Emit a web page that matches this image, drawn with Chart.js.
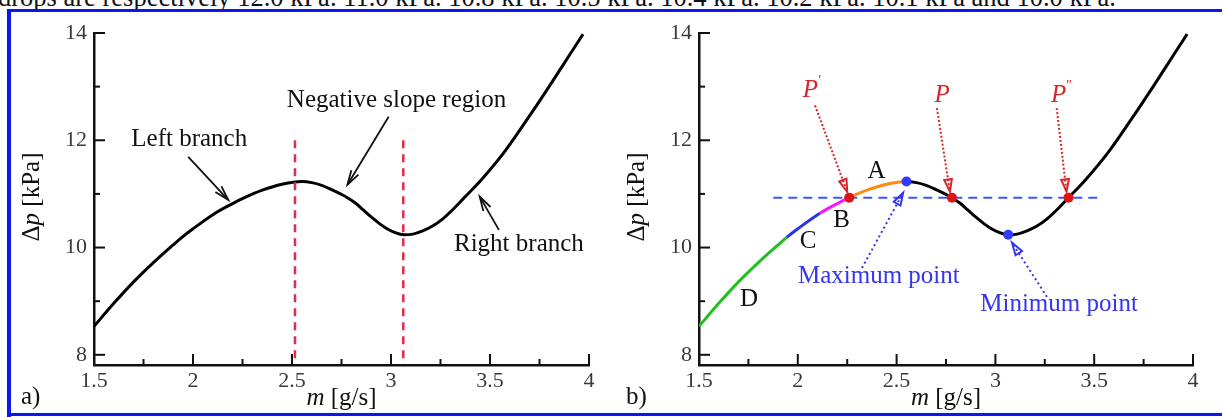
<!DOCTYPE html>
<html>
<head>
<meta charset="utf-8">
<script src="https://cdn.jsdelivr.net/npm/chart.js@4.4.1/dist/chart.umd.min.js"></script>
<style>
  html, body { margin: 0; padding: 0; background: #fff; }
  body { width: 1222px; height: 417px; position: relative; overflow: hidden; font-family: "Liberation Serif", serif; }
  #caption { position: absolute; left: -2px; top: -16px; font-size: 26.5px; line-height: 26.5px; white-space: nowrap; color: #111; }
  .frame { position: absolute; background: #0b16f2; z-index: 5; }
  canvas { position: absolute; top: 0; }
</style>
</head>
<body>
<div id="caption">drops are respectively 12.0 kPa. 11.0 kPa. 10.8 kPa. 10.5 kPa. 10.4 kPa. 10.2 kPa. 10.1 kPa and 10.0 kPa.</div>
<canvas id="panelA" width="610" height="417" style="left:0"></canvas>
<canvas id="panelB" width="617" height="417" style="left:605px"></canvas>
<div class="frame" style="left:7px;top:9px;width:1215px;height:3px"></div>
<div class="frame" style="left:7px;top:9px;width:4px;height:408px"></div>
<div class="frame" style="left:7px;top:413px;width:1215px;height:3px"></div>
<script>
// Pressure drop vs. mass flow rate characteristic
const massFlow = [1.50, 1.60, 1.70, 1.80, 1.90, 1.944, 2.00, 2.112, 2.20, 2.26, 2.35, 2.45, 2.55,
                  2.60, 2.65, 2.70, 2.75, 2.78, 2.82, 2.86, 2.90, 2.94, 2.98, 3.02, 3.065,
                  3.11, 3.16, 3.21, 3.26, 3.31, 3.37, 3.46, 3.57, 3.684, 3.80, 3.90, 3.97];
const pressureDrop = [8.53, 8.96, 9.36, 9.72, 10.05, 10.19, 10.35, 10.64, 10.82, 10.93, 11.07, 11.18, 11.23,
                      11.21, 11.16, 11.08, 10.99, 10.93, 10.83, 10.70, 10.57, 10.45, 10.35, 10.28, 10.24,
                      10.25, 10.31, 10.40, 10.53, 10.70, 10.93, 11.28, 11.77, 12.37, 13.01, 13.58, 13.98];

// Boundaries of the coloured stretches of the left branch (D, C, B, A) and the rest of the curve
const branchBreaks = [1.944, 2.112, 2.26, 2.55];
const branchColors = ['#1fc01f', '#2b33e6', '#ff14ff', '#ff8a14', '#000000'];

// Bounds of the negative slope region
const negativeSlopeBounds = [2.515, 3.062];
const negativeSlopeSpan = [12.0, 7.9];

// Operating points P', P, P'' at the same pressure drop
const operatingLabels = ['\u2032', '', '\u2033'];
const operatingFlow = [2.26, 2.78, 3.37];
const operatingDrop = [10.93, 10.93, 10.93];
const operatingLineFlow = [1.876, 3.524];

// Maximum and minimum of the characteristic
const extremumFlow = [2.55, 3.065];
const extremumDrop = [11.23, 10.24];

// Axis ticks
const xMajorTicks = [1.5, 2, 2.5, 3, 3.5, 4];
const xMinorTicks = [1.75, 2.25, 2.75, 3.25, 3.75];
const yMajorTicks = [8, 10, 12, 14];
const yMinorTicks = [9, 11, 13];

const SERIF = '"Liberation Serif", "Times New Roman", serif';
const curvePoints = massFlow.map((m, i) => ({ x: m, y: pressureDrop[i] }));

function branchColor(m) {
  for (let i = 0; i < branchBreaks.length; i++) if (m < branchBreaks[i] - 1e-9) return branchColors[i];
  return branchColors[branchColors.length - 1];
}

function arrow(ctx, x1, y1, x2, y2, o) {
  ctx.save();
  ctx.strokeStyle = o.color;
  ctx.lineWidth = o.width || 1.6;
  ctx.setLineDash(o.dash || []);
  ctx.beginPath(); ctx.moveTo(x1, y1); ctx.lineTo(x2, y2); ctx.stroke();
  ctx.setLineDash([]);
  const a = Math.atan2(y2 - y1, x2 - x1), L = o.head || 14, w = o.spread || 0.3;
  ctx.beginPath();
  ctx.moveTo(x2 - L * Math.cos(a - w), y2 - L * Math.sin(a - w));
  ctx.lineTo(x2, y2);
  ctx.lineTo(x2 - L * Math.cos(a + w), y2 - L * Math.sin(a + w));
  if (o.closed) ctx.closePath();
  ctx.stroke();
  ctx.restore();
}

// Draws a run of text pieces, each with its own font, starting at x
function runs(ctx, pieces, x, y, align) {
  let total = 0;
  pieces.forEach(p => { ctx.font = p.font; total += ctx.measureText(p.text).width; });
  let cx = align === 'center' ? x - total / 2 : x;
  pieces.forEach(p => {
    ctx.font = p.font;
    ctx.fillText(p.text, cx, y + (p.dy || 0));
    cx += ctx.measureText(p.text).width;
  });
}

const axisDecor = {
  id: 'axisDecor',
  afterDraw(chart) {
    const { ctx, chartArea: a, scales: { x, y } } = chart;
    ctx.save();
    ctx.strokeStyle = '#111';
    ctx.lineWidth = 2;
    const seg = (x1, y1, x2, y2) => { ctx.beginPath(); ctx.moveTo(x1, y1); ctx.lineTo(x2, y2); ctx.stroke(); };
    xMajorTicks.forEach(v => { const p = x.getPixelForValue(v); seg(p, a.bottom, p, a.bottom - 11); });
    xMinorTicks.forEach(v => { const p = x.getPixelForValue(v); seg(p, a.bottom, p, a.bottom - 6); });
    yMajorTicks.forEach(v => { const p = y.getPixelForValue(v); seg(a.left, p, a.left + 11, p); });
    yMinorTicks.forEach(v => { const p = y.getPixelForValue(v); seg(a.left, p, a.left + 6, p); });

    // axis titles and panel tag
    ctx.fillStyle = '#111';
    ctx.textBaseline = 'alphabetic';
    const up = `25px ${SERIF}`, it = `italic 25px ${SERIF}`;
    runs(ctx, [{ text: 'm', font: it }, { text: ' [g/s]', font: up }], (a.left + a.right) / 2, a.bottom + 40, 'center');
    ctx.save();
    ctx.translate(a.left - 55, (a.top + a.bottom) / 2 - 2);
    ctx.rotate(-Math.PI / 2);
    runs(ctx, [{ text: '\u0394', font: up }, { text: 'p', font: it }, { text: ' [kPa]', font: up }], 0, 0, 'center');
    ctx.restore();
    ctx.font = up;
    ctx.textAlign = 'left';
    ctx.fillText(chart.options.panelTag, a.left - 73, a.bottom + 39);
    ctx.restore();
  }
};

function scaleOptions() {
  return {
    x: {
      type: 'linear', min: 1.5, max: 4,
      afterBuildTicks: s => { s.ticks = xMajorTicks.map(v => ({ value: v })); },
      afterFit: s => { s.height = 52; },
      grid: { display: false, drawTicks: false },
      border: { display: true, color: '#111', width: 2.5 },
      ticks: { font: { family: SERIF, size: 22 }, color: '#3a3a3a', padding: 3, maxRotation: 0, autoSkip: false,
               callback: v => String(v) }
    },
    y: {
      type: 'linear', min: 7.81, max: 14,
      afterBuildTicks: s => { s.ticks = yMajorTicks.map(v => ({ value: v })); },
      afterFit: s => { s.width = 94; },
      grid: { display: false, drawTicks: false },
      border: { display: true, color: '#111', width: 2.5 },
      ticks: { font: { family: SERIF, size: 22 }, color: '#3a3a3a', padding: 7, autoSkip: false,
               callback: v => String(v) }
    }
  };
}

function baseOptions(rightPad, tag) {
  return {
    responsive: false, animation: false, devicePixelRatio: 1,
    panelTag: tag,
    layout: { padding: { left: 0, top: 33, right: rightPad, bottom: 0 } },
    plugins: { legend: { display: false }, tooltip: { enabled: false } },
    elements: { point: { radius: 0 } },
    scales: scaleOptions()
  };
}

// ---------- panel a) ----------
const notesA = {
  id: 'notesA',
  afterDraw(chart) {
    const { ctx, scales: { x, y } } = chart;
    const P = (m, d) => [x.getPixelForValue(m), y.getPixelForValue(d)];
    ctx.save();
    ctx.fillStyle = '#111';
    ctx.font = `25px ${SERIF}`;
    ctx.textAlign = 'center';
    ctx.textBaseline = 'middle';
    let p = P(1.981, 12.01); ctx.fillText('Left branch', p[0], p[1]);
    p = P(3.028, 12.74); ctx.fillText('Negative slope region', p[0], p[1]);
    p = P(3.646, 10.05); ctx.fillText('Right branch', p[0], p[1]);
    const black = { color: '#111', width: 1.8, head: 15, spread: 0.28 };
    arrow(ctx, ...P(1.976, 11.69), ...P(2.178, 10.89), black);
    arrow(ctx, ...P(2.988, 12.44), ...P(2.780, 11.17), black);
    arrow(ctx, ...P(3.545, 10.33), ...P(3.448, 10.95), black);
    ctx.restore();
  }
};

const dashRed = '#e32b4b';
new Chart(document.getElementById('panelA'), {
  type: 'line',
  data: {
    datasets: [
      { data: curvePoints, borderColor: '#000', borderWidth: 3, cubicInterpolationMode: 'monotone', order: 2 },
      ...negativeSlopeBounds.map(m => ({
        data: negativeSlopeSpan.map(d => ({ x: m, y: d })),
        borderColor: dashRed, borderWidth: 2.5, borderDash: [8, 6], order: 1
      }))
    ]
  },
  options: baseOptions(21, 'a)'),
  plugins: [axisDecor, notesA]
});

// ---------- panel b) ----------
const notesB = {
  id: 'notesB',
  afterDraw(chart) {
    const { ctx, scales: { x, y } } = chart;
    const P = (m, d) => [x.getPixelForValue(m), y.getPixelForValue(d)];
    ctx.save();
    ctx.textBaseline = 'middle';
    ctx.textAlign = 'left';
    ctx.fillStyle = '#111';
    const up = `25px ${SERIF}`;
    [['A', 2.399, 11.41], ['B', 2.222, 10.51], ['C', 2.052, 10.11], ['D', 1.753, 9.03]].forEach(([t, m, d]) => {
      const p = P(m, d);
      runs(ctx, [{ text: t, font: up }], p[0], p[1], 'center');
    });

    // operating point labels with dotted arrows
    const red = '#d6262a';
    ctx.fillStyle = red;
    const labelPos = [[2.072, 12.93], [2.73, 12.84], [3.335, 12.84]];
    const tailPos = [[2.087, 12.65], [2.704, 12.60], [3.31, 12.60]];
    operatingFlow.forEach((m, i) => {
      const lp = P(...labelPos[i]);
      runs(ctx, [{ text: 'P', font: `italic 25px ${SERIF}` },
                 { text: operatingLabels[i], font: `14px ${SERIF}`, dy: -9 }], lp[0], lp[1], 'center');
      const tip = P(m - 0.01, operatingDrop[i] + 0.11);
      arrow(ctx, ...P(...tailPos[i]), ...tip, { color: red, width: 2, dash: [2, 2], head: 13, spread: 0.3, closed: true });
    });

    // extrema notes
    const blue = '#3535ee';
    ctx.fillStyle = blue;
    let p = P(2.41, 9.455); runs(ctx, [{ text: 'Maximum point', font: up }], p[0], p[1], 'center');
    p = P(3.322, 8.935); runs(ctx, [{ text: 'Minimum point', font: up }], p[0], p[1], 'center');
    const dot = { color: blue, width: 2, dash: [2, 3], head: 13, spread: 0.3, closed: true };
    arrow(ctx, ...P(2.325, 9.62), ...P(2.533, 11.02), dot);
    arrow(ctx, ...P(3.261, 9.08), ...P(3.084, 10.09), dot);
    ctx.restore();
  }
};

new Chart(document.getElementById('panelB'), {
  type: 'line',
  data: {
    datasets: [
      { data: curvePoints, borderColor: '#000', borderWidth: 3, cubicInterpolationMode: 'monotone', order: 2,
        segment: { borderColor: c => branchColor(c.p0.parsed.x) } },
      { data: operatingLineFlow.map(m => ({ x: m, y: operatingDrop[0] })),
        borderColor: '#3d55ff', borderWidth: 2, borderDash: [9, 6], order: 3 },
      { data: operatingFlow.map((m, i) => ({ x: m, y: operatingDrop[i] })), showLine: false,
        pointRadius: 5, pointBackgroundColor: '#dd1515', pointBorderWidth: 0, order: 0 },
      { data: extremumFlow.map((m, i) => ({ x: m, y: extremumDrop[i] })), showLine: false,
        pointRadius: 5, pointBackgroundColor: '#2d3cff', pointBorderWidth: 0, order: 0 }
    ]
  },
  options: baseOptions(29, 'b)'),
  plugins: [axisDecor, notesB]
});
</script>
</body>
</html>
